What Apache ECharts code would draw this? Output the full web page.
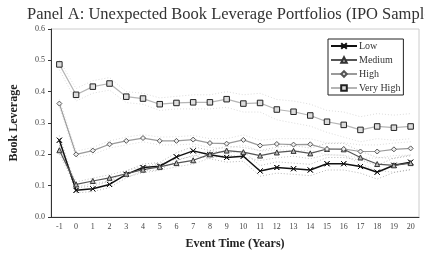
<!DOCTYPE html>
<html>
<head>
<meta charset="utf-8">
<script src="https://cdn.jsdelivr.net/npm/echarts@6/dist/echarts.min.js"></script>
<style>
  html, body { margin: 0; padding: 0; background: #fff; }
  #main { width: 425px; height: 256px; }
</style>
</head>
<body>
<div id="main"></div>
<script>
var years = ['-1','0','1','2','3','4','5','6','7','8','9','10','11','12','13','14','15','16','17','18','19','20'];

var low = [0.245,0.085,0.090,0.104,0.136,0.158,0.162,0.192,0.211,0.199,0.190,0.194,0.147,0.158,0.154,0.150,0.170,0.170,0.161,0.143,0.165,0.175];
var lowUp = [0.26,0.093,0.099,0.114,0.147,0.169,0.174,0.205,0.225,0.212,0.205,0.21,0.164,0.176,0.172,0.168,0.19,0.19,0.182,0.165,0.188,0.198];
var lowDn = [0.23,0.077,0.081,0.094,0.125,0.147,0.15,0.179,0.197,0.186,0.175,0.178,0.13,0.14,0.136,0.132,0.15,0.15,0.14,0.121,0.142,0.152];

var medium = [0.213,0.104,0.115,0.125,0.138,0.151,0.160,0.172,0.181,0.200,0.212,0.207,0.196,0.206,0.211,0.203,0.217,0.216,0.190,0.169,0.165,0.172];
var mediumUp = [0.225,0.112,0.124,0.135,0.148,0.161,0.171,0.184,0.193,0.212,0.226,0.222,0.212,0.223,0.228,0.22,0.235,0.235,0.21,0.19,0.187,0.195];
var mediumDn = [0.20,0.096,0.106,0.115,0.128,0.141,0.149,0.16,0.169,0.188,0.198,0.192,0.18,0.189,0.194,0.186,0.199,0.197,0.17,0.148,0.143,0.15];

var high = [0.362,0.200,0.212,0.232,0.243,0.252,0.243,0.243,0.247,0.236,0.234,0.246,0.228,0.233,0.231,0.232,0.217,0.217,0.209,0.209,0.216,0.219];
var highUp = [0.375,0.21,0.222,0.243,0.255,0.263,0.255,0.256,0.26,0.25,0.25,0.262,0.245,0.25,0.25,0.25,0.236,0.237,0.23,0.23,0.236,0.24];
var highDn = [0.35,0.19,0.20,0.22,0.23,0.24,0.23,0.23,0.233,0.222,0.218,0.23,0.21,0.215,0.212,0.213,0.198,0.197,0.188,0.188,0.196,0.198];

var veryHigh = [0.487,0.390,0.416,0.426,0.384,0.378,0.360,0.364,0.366,0.366,0.376,0.362,0.364,0.343,0.336,0.324,0.304,0.294,0.278,0.289,0.285,0.289];
var veryHighUp = [0.50,0.41,0.435,0.445,0.40,0.395,0.38,0.385,0.39,0.39,0.40,0.39,0.395,0.375,0.37,0.36,0.34,0.335,0.32,0.33,0.325,0.33];
var veryHighDn = [0.47,0.37,0.395,0.405,0.365,0.36,0.34,0.345,0.345,0.345,0.35,0.335,0.335,0.31,0.30,0.29,0.27,0.255,0.24,0.25,0.245,0.25];

var serif = '"Liberation Serif", "DejaVu Serif", serif';
var xMark = 'path://M0,0L10,10L5,5L10,0L0,10L5,5Z';

function band(data, color) {
    return {
        type: 'line',
        data: data,
        symbol: 'none',
        silent: true,
        z: 1,
        lineStyle: { color: color, width: 0.7, type: [1, 2] }
    };
}

function main(name, data, lineColor, width, symbol, size, fill, border) {
    return {
        name: name,
        type: 'line',
        data: data,
        symbol: symbol,
        symbolSize: size,
        showAllSymbol: true,
        z: 3,
        lineStyle: { color: lineColor, width: width },
        itemStyle: { color: fill, borderColor: border, borderWidth: 1 }
    };
}

var chart = echarts.init(document.getElementById('main'));
var option = {
    animation: false,
    textStyle: { fontFamily: serif },
    title: {
        text: 'Panel A: Unexpected Book Leverage Portfolios (IPO Sample)',
        left: 22,
        top: 1,
        textStyle: { fontFamily: serif, fontSize: 16.5, fontWeight: 'normal', color: '#333' }
    },
    grid: {
        left: 41, right: 6, top: 29, bottom: 39,
        show: true, borderColor: '#ccc', borderWidth: 1
    },
    legend: {
        data: ['Low', 'Medium', 'High', 'Very High'],
        orient: 'vertical',
        left: 328,
        top: 39,
        itemWidth: 26,
        itemHeight: 7,
        itemGap: 4,
        padding: [2, 3, 2, 2],
        borderColor: '#222',
        borderWidth: 1,
        backgroundColor: '#fff',
        textStyle: { fontFamily: serif, fontSize: 10, color: '#333', padding: [0, 0, 0, -3] }
    },
    xAxis: {
        type: 'category',
        data: years,
        boundaryGap: true,
        name: 'Event Time (Years)',
        nameLocation: 'middle',
        nameGap: 21,
        nameTextStyle: { fontFamily: serif, fontSize: 12, fontWeight: 'bold', color: '#222' },
        axisLine: { lineStyle: { color: '#333', width: 1 } },
        axisTick: { alignWithLabel: false, length: 3, lineStyle: { color: '#333' } },
        axisLabel: { fontSize: 8, color: '#444', margin: 6, interval: 0 },
        splitLine: { show: false }
    },
    yAxis: {
        type: 'value',
        min: 0,
        max: 0.6,
        interval: 0.1,
        name: 'Book Leverage',
        nameLocation: 'middle',
        nameGap: 31,
        nameTextStyle: { fontFamily: serif, fontSize: 12, fontWeight: 'bold', color: '#222' },
        axisLine: { show: true, lineStyle: { color: '#333', width: 1 } },
        axisTick: { show: true, length: 3, lineStyle: { color: '#333' } },
        axisLabel: {
            fontSize: 8, color: '#444', margin: 6,
            formatter: function (v) { return v.toFixed(1); }
        },
        splitLine: { show: false }
    },
    series: [
        band(veryHighUp, '#ccc'), band(veryHighDn, '#ccc'),
        band(highUp, '#ccc'), band(highDn, '#ccc'),
        band(mediumUp, '#aaa'), band(mediumDn, '#aaa'),
        band(lowUp, '#999'), band(lowDn, '#999'),
        main('Low', low, '#111', 1.5, xMark, 5, '#111', '#111'),
        main('Medium', medium, '#555', 1.2, 'triangle', 5, '#bbb', '#333'),
        main('High', high, '#9a9a9a', 1.2, 'diamond', 5, '#eee', '#555'),
        main('Very High', veryHigh, '#b5b5b5', 1.2, 'rect', 5.5, '#ddd', '#222')
    ]
};
chart.setOption(option);
</script>
</body>
</html>
